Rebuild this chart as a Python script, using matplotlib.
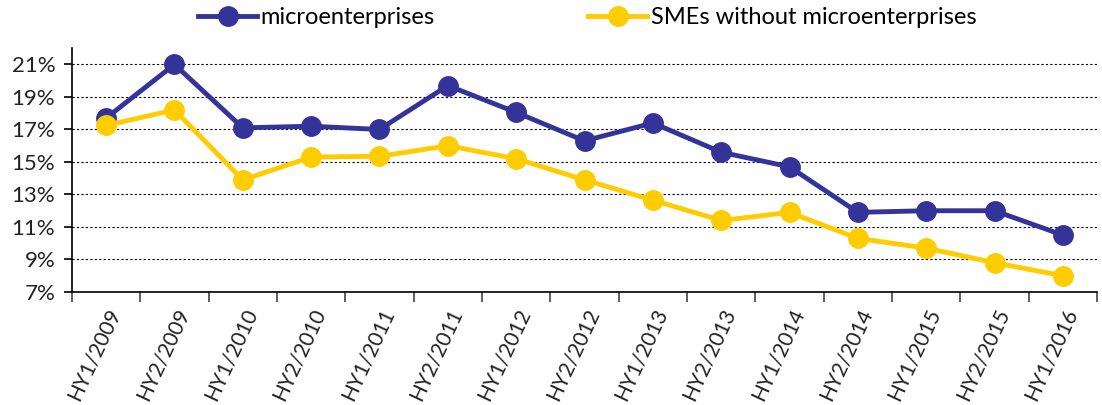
import matplotlib
matplotlib.use("Agg")
import matplotlib.pyplot as plt
from matplotlib.ticker import FixedLocator, PercentFormatter

periods = ["HY1/2009", "HY2/2009", "HY1/2010", "HY2/2010", "HY1/2011",
           "HY2/2011", "HY1/2012", "HY2/2012", "HY1/2013", "HY2/2013",
           "HY1/2014", "HY2/2014", "HY1/2015", "HY2/2015", "HY1/2016"]
micro = [17.7, 21.0, 17.1, 17.2, 17.0, 19.7, 18.05, 16.3, 17.4, 15.6,
         14.7, 11.9, 12.0, 12.0, 10.5]
sme = [17.25, 18.2, 13.9, 15.3, 15.35, 16.0, 15.2, 13.9, 12.65, 11.4,
       11.9, 10.3, 9.7, 8.8, 8.0]

plt.rcParams["font.family"] = ["Lato", "DejaVu Sans"]

fig = plt.figure(figsize=(11.02, 4.05), dpi=100)
ax = fig.add_axes([0.0653, 0.279, 0.9302, 0.602])

x = range(len(periods))
ax.plot(x, micro, color="#333399", lw=3.5, marker="o", ms=14,
        label="microenterprises", zorder=3)
ax.plot(x, sme, color="#FFCC00", lw=3.5, marker="o", ms=14,
        label="SMEs without microenterprises", zorder=3)

ax.set_xlim(-0.5, len(periods) - 0.5)
ax.set_ylim(7, 22)
ax.set_yticks(range(7, 22, 2))
ax.yaxis.set_major_formatter(PercentFormatter(decimals=0))
ax.grid(axis="y", color="black", ls=(0, (2, 2)), lw=0.8)
ax.set_axisbelow(True)

ax.set_xticks(list(x))
ax.set_xticklabels(periods, rotation=65, ha="right", rotation_mode="anchor",
                   fontsize=15)
ax.tick_params(axis="x", which="major", length=0, pad=10)
ax.xaxis.set_minor_locator(FixedLocator([i + 0.5 for i in range(-1, len(periods))]))
ax.tick_params(axis="x", which="minor", length=7, width=1.2, color="#444444")
ax.tick_params(axis="y", length=6, width=1.2, pad=6, labelsize=16)
ax.tick_params(labelcolor="#222222")

for side in ("top", "right"):
    ax.spines[side].set_visible(False)
for side in ("left", "bottom"):
    ax.spines[side].set_linewidth(1.2)

fig.legend(loc="upper center", bbox_to_anchor=(0.533, 1.035), ncol=2,
           frameon=False, fontsize=17, handlelength=2.5, handletextpad=0.15,
           columnspacing=6.5)

fig.savefig("out.png", dpi=100)
